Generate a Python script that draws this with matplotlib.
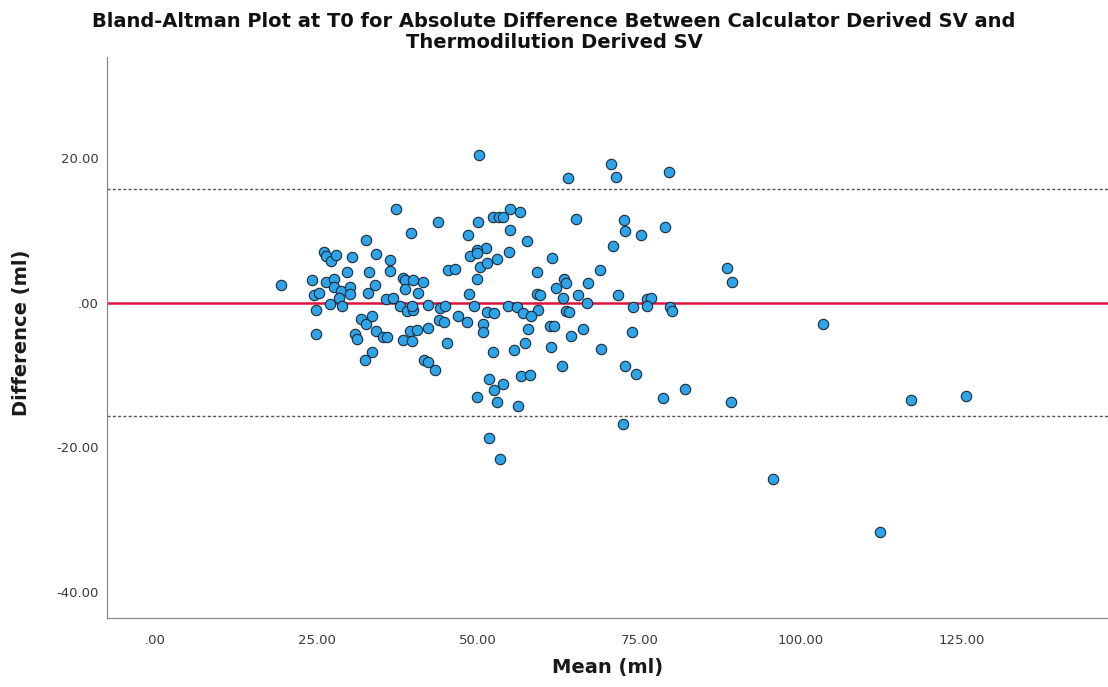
import matplotlib.pyplot as plt

# Bland-Altman data: mean of the two methods (ml) and their difference (ml)
mean_ml = [
    19.5, 37.2, 43.8, 39.6, 50.0, 52.3, 53.3, 48.5, 32.7, 26.1,
    26.5, 27.2, 28.0, 30.5, 34.1, 36.3, 36.3, 33.1, 29.7, 24.3,
    26.5, 27.6, 27.6, 24.5, 25.3, 28.7, 28.4, 30.2, 30.2, 33.0,
    34.0, 38.4, 38.7, 39.9, 41.5, 38.7, 40.7, 45.4, 46.4, 48.6,
    49.8, 50.3, 51.3, 51.2, 49.9, 48.8, 53.0, 35.8, 36.8, 27.1,
    50.1, 53.9, 49.9,
    24.9, 24.9, 28.9, 31.8, 32.7, 33.6, 30.9, 31.3, 34.1, 35.3,
    35.9, 33.6, 32.5, 37.9, 39.0, 39.9, 39.7, 39.4, 40.5, 38.4,
    39.7, 42.2, 42.3, 41.6, 42.3, 43.3, 44.1, 43.9, 44.7, 45.2,
    44.9, 46.9, 48.3, 49.4, 51.4, 52.4, 50.7, 50.7, 52.3, 51.7,
    52.4, 52.9, 49.9, 51.7, 53.4,
    64.0, 70.6, 71.4, 79.5, 55.0, 56.5, 55.0, 57.6, 65.2, 72.6,
    72.8, 75.2, 78.9, 70.9, 54.8, 61.5, 59.1, 68.9, 63.3, 63.6,
    62.1, 67.1, 59.1, 59.6, 63.2, 65.5, 71.7, 76.1, 76.8, 66.8,
    74.0, 54.7, 56.0, 59.3, 79.8, 80.1,
    57.0, 58.2, 63.6, 64.1, 76.2, 57.7, 57.3, 55.6, 61.1, 61.8,
    61.3, 64.4, 66.2, 63.0, 69.1, 73.9, 72.7, 74.5, 78.6, 82.1,
    72.4, 56.7, 58.0, 53.9, 56.2,
    88.6, 89.4, 103.5, 89.2, 117.0, 125.6, 95.7, 112.2,
]
diff_ml = [
    2.5, 12.9, 11.1, 9.7, 11.2, 11.8, 11.9, 9.4, 8.7, 7.0,
    6.4, 5.7, 6.6, 6.3, 6.8, 5.9, 4.4, 4.3, 4.3, 3.2,
    2.9, 3.3, 2.2, 1.0, 1.4, 1.6, 0.7, 2.2, 1.2, 1.3,
    2.4, 3.4, 3.1, 3.2, 2.9, 1.9, 1.3, 4.5, 4.6, 1.2,
    3.3, 5.0, 5.5, 7.6, 7.3, 6.5, 6.1, 0.5, 0.6, -0.2,
    20.4, 11.9, 6.9,
    -1.0, -4.3, -0.4, -2.3, -2.9, -1.8, -4.4, -5.0, -3.9, -4.7,
    -4.7, -6.9, -8.0, -0.4, -1.2, -1.0, -0.4, -3.9, -3.8, -5.2,
    -5.3, -3.5, -0.3, -8.0, -8.2, -9.3, -0.7, -2.4, -2.7, -5.6,
    -0.4, -1.8, -2.7, -0.4, -1.3, -1.5, -2.9, -4.1, -6.8, -10.6,
    -12.1, -13.8, -13.1, -18.7, -21.7,
    17.2, 19.2, 17.4, 18.1, 13.0, 12.5, 10.1, 8.5, 11.6, 11.5,
    9.9, 9.3, 10.4, 7.8, 7.0, 6.2, 4.2, 4.5, 3.3, 2.7,
    2.0, 2.7, 1.2, 1.1, 0.7, 1.1, 1.0, 0.5, 0.7, -0.1,
    -0.6, -0.4, -0.6, -1.0, -0.6, -1.1,
    -1.4, -1.9, -1.1, -1.3, -0.4, -3.7, -5.6, -6.6, -3.2, -3.2,
    -6.2, -4.6, -3.7, -8.8, -6.4, -4.0, -8.8, -9.9, -13.2, -12.0,
    -16.8, -10.2, -10.0, -11.3, -14.3,
    4.8, 2.8, -3.0, -13.8, -13.5, -12.9, -24.4, -31.8,
]

bias = 0.0
loa = 15.7  # 1.96 * SD

x_ticks = [0, 25, 50, 75, 100, 125]
y_ticks = [20, 0, -20, -40]


def spss_fmt(v):
    s = f"{v:.2f}"
    return s.replace("0.00", ".00") if abs(v) < 1e-9 else s


fig = plt.figure(figsize=(11.08, 6.87), dpi=100)
ax = fig.add_axes([0.0966, 0.100, 0.9034, 0.817])

ax.axhline(loa + bias, color='#555555', lw=1.0, ls=(0, (2.2, 1.6)), zorder=1)
ax.axhline(bias - loa, color='#555555', lw=1.0, ls=(0, (2.2, 1.6)), zorder=1)
ax.axhline(bias, color='#dc143c', lw=1.8, zorder=2)

ax.scatter(mean_ml, diff_ml, s=56, facecolor='#2da3e8', edgecolor='#1c2a38',
           linewidth=0.8, zorder=3)

ax.set_xlim(-7.5, 147.6)
ax.set_ylim(-43.7, 34.0)
ax.set_xticks(x_ticks)
ax.set_xticklabels([spss_fmt(v) for v in x_ticks])
ax.set_yticks(y_ticks)
ax.set_yticklabels([spss_fmt(v) for v in y_ticks])
ax.tick_params(length=0, labelsize=9.5, labelcolor='#3a3a3a')
ax.tick_params(axis='x', pad=11)
ax.tick_params(axis='y', pad=6)

for side in ['top', 'right']:
    ax.spines[side].set_visible(False)
for side in ['left', 'bottom']:
    ax.spines[side].set_color('#8a8a8a')
    ax.spines[side].set_linewidth(0.9)

fig.text(0.548, 1 - 668 / 687, 'Mean (ml)', ha='center', va='center',
         fontsize=14, fontweight='bold', color='#1a1a1a')
fig.text(22 / 1108, 1 - 333 / 687, 'Difference (ml)', ha='center', va='center',
         rotation=90, fontsize=14, fontweight='bold', color='#1a1a1a')
fig.text(0.5, 1 - 32 / 687,
         'Bland-Altman Plot at T0 for Absolute Difference Between Calculator Derived SV and\n'
         'Thermodilution Derived SV',
         ha='center', va='center', fontsize=14, fontweight='bold',
         linespacing=1.1, color='#111111')

fig.savefig('out.png', dpi=100)
